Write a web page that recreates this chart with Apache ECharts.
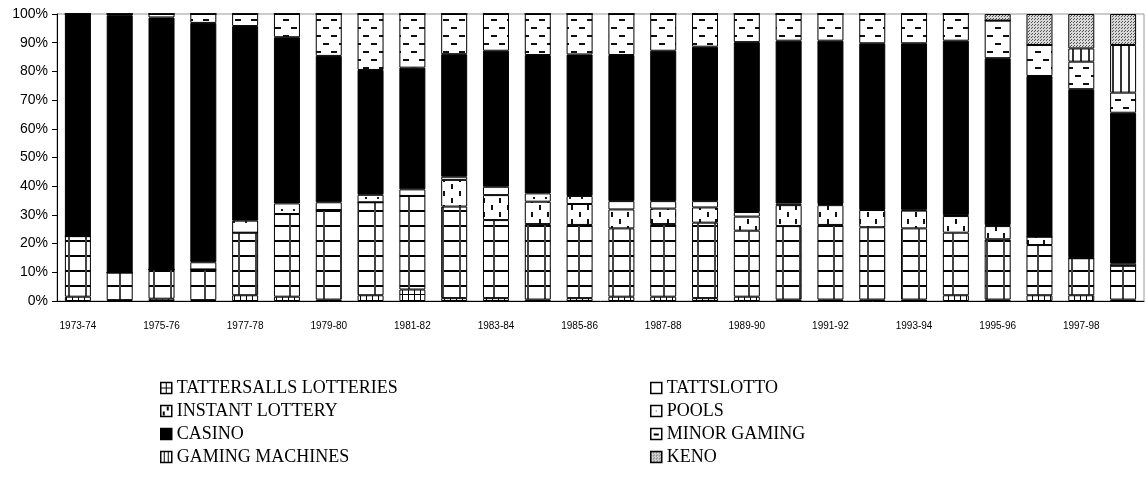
<!DOCTYPE html>
<html>
<head>
<meta charset="utf-8">
<script src="https://cdn.jsdelivr.net/npm/echarts@6/dist/echarts.min.js"></script>
<style>
  html, body { margin: 0; padding: 0; background: #fff; }
  #chart { width: 1146px; height: 489px; }
</style>
</head>
<body>
<div id="chart"></div>
<script>
// years (last one has no label, Excel skips every other)
var categories = ['1973-74', '1974-75', '1975-76', '1976-77', '1977-78', '1978-79', '1979-80',
  '1980-81', '1981-82', '1982-83', '1983-84', '1984-85', '1985-86', '1986-87', '1987-88',
  '1988-89', '1989-90', '1990-91', '1991-92', '1992-93', '1993-94', '1994-95', '1995-96',
  '1996-97', '1997-98', '1998-99'];

// share of total (%)
var tattersalls = [1.5, 0.3, 0.8, 0.3, 2, 1.5, 0.5, 2, 4, 1, 1, 0.5, 1, 1.5, 1.5, 1, 1.5, 0.5, 0.5, 0.5, 0.5, 2, 0.5, 2, 2, 0.5];
var tattslotto = [21.1, 9.6, 10.2, 10.7, 21.8, 28.8, 31.2, 32.4, 32.6, 31.9, 27.2, 26.3, 25.5, 23.8, 25.3, 26.3, 23, 25.6, 26, 25.2, 24.8, 21.8, 21, 17.5, 12.9, 11.8];
var instantLottery = [0, 0, 0, 0, 0, 0, 0, 0, 0, 9.3, 8.7, 7.8, 7.3, 6.6, 5.4, 5.3, 4.9, 7.3, 6.9, 6, 6.2, 5.8, 4.6, 2.9, 0, 0];
var pools = [0, 0, 0, 2.5, 4.2, 3.7, 2.7, 2.6, 2.3, 1.1, 2.9, 2.9, 2.8, 2.9, 2.6, 2.2, 1.6, 0.6, 0.4, 0.2, 0.3, 0.4, 0.4, 0, 0.3, 0.7];
var casino = [77.4, 89.7, 87.8, 83.4, 67.8, 57.9, 51, 43.5, 42.4, 42.7, 47.4, 48.2, 49.3, 50.9, 52.4, 53.8, 59.2, 56.7, 56.9, 57.9, 58, 60.7, 58.1, 56, 58.6, 52.6];
var minorGaming = [0, 0.4, 1.2, 3.1, 4.2, 8.1, 14.6, 19.5, 18.7, 14, 12.8, 14.3, 14.1, 14.3, 12.8, 11.4, 9.8, 9.3, 9.3, 10.2, 10.2, 9.3, 13.1, 10.8, 9.6, 7];
var gamingMachines = [0, 0, 0, 0, 0, 0, 0, 0, 0, 0, 0, 0, 0, 0, 0, 0, 0, 0, 0, 0, 0, 0, 0, 0, 4.6, 16.6];
var keno = [0, 0, 0, 0, 0, 0, 0, 0, 0, 0, 0, 0, 0, 0, 0, 0, 0, 0, 0, 0, 0, 0, 2.3, 10.8, 12, 10.8];

var yTicks = [0, 10, 20, 30, 40, 50, 60, 70, 80, 90, 100];

// little canvas tiles to mimic the old excel fill patterns
function makePattern(w, h, draw) {
  var c = document.createElement('canvas');
  c.width = w;
  c.height = h;
  var ctx = c.getContext('2d');
  ctx.fillStyle = '#fff';
  ctx.fillRect(0, 0, w, h);
  draw(ctx);
  return { image: c, repeat: 'repeat' };
}

var patSmallGrid = makePattern(6, 6, function (ctx) {
  ctx.fillStyle = '#000';
  ctx.fillRect(0, 0, 6, 1);
  ctx.fillRect(0, 0, 1, 6);
});
var patBigGrid = makePattern(17, 15, function (ctx) {
  ctx.fillStyle = '#000';
  ctx.fillRect(0, 0, 17, 2);
  ctx.fillStyle = '#444';
  ctx.fillRect(0, 0, 2, 15);
});
var patTicks = makePattern(16, 14, function (ctx) {
  ctx.fillStyle = '#111';
  ctx.fillRect(3, 2, 2, 5);
  ctx.fillRect(11, 9, 2, 5);
});
var patDots = makePattern(12, 12, function (ctx) {
  ctx.fillStyle = '#222';
  ctx.fillRect(5, 5, 2, 2);
});
var patDashes = makePattern(16, 16, function (ctx) {
  ctx.fillStyle = '#111';
  ctx.fillRect(11, 3, 5, 2);
  ctx.fillRect(0, 3, 1, 2);
  ctx.fillRect(3, 11, 6, 2);
});
var patVLines = makePattern(8, 4, function (ctx) {
  ctx.fillStyle = '#333';
  ctx.fillRect(0, 0, 2, 4);
});
var patKeno = makePattern(3, 3, function (ctx) {
  ctx.fillStyle = '#d8d8d8';
  ctx.fillRect(0, 0, 3, 3);
  ctx.fillStyle = '#555';
  ctx.fillRect(0, 0, 1, 1);
  ctx.fillRect(2, 1, 1, 1);
});

// legend swatches: one 11px tile each, so the glyph sits in the middle
var icoGrid = makePattern(11, 11, function (ctx) {
  ctx.fillStyle = '#000';
  ctx.fillRect(5, 0, 1, 11);
  ctx.fillRect(0, 5, 11, 1);
});
var icoPlain = makePattern(11, 11, function (ctx) {});
var icoTicks = makePattern(11, 11, function (ctx) {
  ctx.fillStyle = '#000';
  ctx.fillRect(2, 6, 2, 4);
  ctx.fillRect(6, 1, 2, 4);
});
var icoDot = makePattern(11, 11, function (ctx) {
  ctx.fillStyle = '#333';
  ctx.fillRect(5, 5, 1, 1);
});
var icoDash = makePattern(11, 11, function (ctx) {
  ctx.fillStyle = '#000';
  ctx.fillRect(3, 5, 5, 2);
});
var icoVLines = makePattern(11, 11, function (ctx) {
  ctx.fillStyle = '#000';
  ctx.fillRect(3, 0, 1, 11);
  ctx.fillRect(7, 0, 1, 11);
});

function barSeries(name, data, fill) {
  return {
    name: name,
    type: 'bar',
    stack: 'total',
    barWidth: 26,
    data: data,
    itemStyle: {
      color: fill,
      borderColor: '#000',
      borderWidth: 1
    }
  };
}

function legendItem(name, fill) {
  return { name: name, itemStyle: { color: fill, borderColor: '#000', borderWidth: 1.5 } };
}

var chartDom = document.getElementById('chart');
var myChart = echarts.init(chartDom);
var option;

var legendBase = {
  orient: 'vertical',
  top: 379,
  padding: 0,
  icon: 'rect',
  itemWidth: 11,
  itemHeight: 11,
  itemGap: 5,
  selectedMode: false,
  textStyle: {
    fontFamily: 'Liberation Serif',
    fontSize: 18,
    color: '#000'
  }
};

option = {
  animation: false,
  backgroundColor: '#fff',
  grid: {
    left: 57,
    right: 2,
    top: 14,
    bottom: 188,
    show: true,
    borderColor: '#999',
    borderWidth: 1
  },
  legend: [
    Object.assign({}, legendBase, {
      left: 160,
      data: [
        legendItem('TATTERSALLS LOTTERIES', icoGrid),
        legendItem('INSTANT LOTTERY', icoTicks),
        legendItem('CASINO', '#000'),
        legendItem('GAMING MACHINES', icoVLines)
      ]
    }),
    Object.assign({}, legendBase, {
      left: 650,
      data: [
        legendItem('TATTSLOTTO', icoPlain),
        legendItem('POOLS', icoDot),
        legendItem('MINOR GAMING', icoDash),
        legendItem('KENO', patKeno)
      ]
    })
  ],
  xAxis: {
    type: 'category',
    data: categories,
    boundaryGap: true,
    axisLine: { lineStyle: { color: '#000', width: 1 } },
    axisTick: { interval: 0, length: 5, lineStyle: { color: '#000' } },
    axisLabel: {
      interval: 1,
      margin: 20,
      fontFamily: 'Liberation Sans',
      fontSize: 10,
      color: '#000'
    },
    splitLine: { show: false }
  },
  yAxis: {
    type: 'value',
    min: yTicks[0],
    max: yTicks[yTicks.length - 1],
    interval: 10,
    axisLine: { show: true, lineStyle: { color: '#000', width: 1 } },
    axisTick: { show: true, length: 5, lineStyle: { color: '#000' } },
    axisLabel: {
      formatter: '{value}%',
      margin: 9,
      fontFamily: 'Liberation Sans',
      fontSize: 14,
      color: '#000'
    },
    splitLine: { show: false }
  },
  series: [
    barSeries('TATTERSALLS LOTTERIES', tattersalls, patSmallGrid),
    barSeries('TATTSLOTTO', tattslotto, patBigGrid),
    barSeries('INSTANT LOTTERY', instantLottery, patTicks),
    barSeries('POOLS', pools, patDots),
    barSeries('CASINO', casino, '#000'),
    barSeries('MINOR GAMING', minorGaming, patDashes),
    barSeries('GAMING MACHINES', gamingMachines, patVLines),
    barSeries('KENO', keno, patKeno)
  ]
};

option && myChart.setOption(option);
</script>
</body>
</html>
